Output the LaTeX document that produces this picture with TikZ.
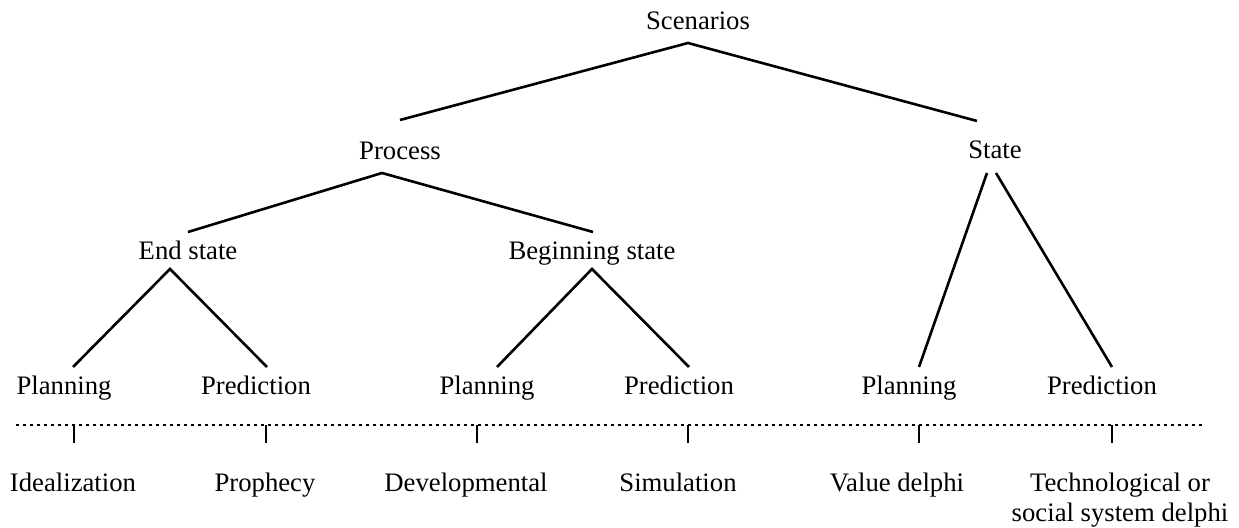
\documentclass[tikz,border=0pt]{standalone}
\usepackage{fontspec}
\setmainfont{Liberation Serif}
\begin{document}
\begin{tikzpicture}[x=0.5pt,y=-0.5pt,
  lbl/.style={anchor=base,inner sep=0pt,font=\fontsize{13.35}{15.5}\selectfont},
  edge/.style={line width=1.3pt,line cap=butt},
  sep/.style={line width=1pt,dash pattern=on 1.5pt off 2pt}]
\useasboundingbox (0,0) rectangle (1239,528);
% labels
\node[lbl] (scen) at (698,30) {Scenarios};
\node[lbl] (proc) at (400,160) {Process};
\node[lbl] (stat) at (995,159) {State};
\node[lbl] (ends) at (188,260) {End state};
\node[lbl] (begs) at (592,260) {Beginning state};
\node[lbl] (pl1) at (64,395) {Planning};
\node[lbl] (pr1) at (256,395) {Prediction};
\node[lbl] (pl2) at (487,395) {Planning};
\node[lbl] (pr2) at (679,395) {Prediction};
\node[lbl] (pl3) at (909,395) {Planning};
\node[lbl] (pr3) at (1102,395) {Prediction};
\node[lbl] (ide) at (73,492) {Idealization};
\node[lbl] (pro) at (265,492) {Prophecy};
\node[lbl] (dev) at (466,492) {Developmental};
\node[lbl] (sim) at (678,492) {Simulation};
\node[lbl] (val) at (897,492) {Value delphi};
\node[lbl] (tec) at (1120,492) {Technological or};
\node[lbl] (soc) at (1120,522) {social system delphi};
% junction points
\coordinate (scenA) at (688,43);
\coordinate (procT) at (400,120);
\coordinate (statT) at (977,121);
\coordinate (procA) at (382,173);
\coordinate (endsT) at (188,232);
\coordinate (begsT) at (593,232);
\coordinate (endsA) at (170,269);
\coordinate (begsA) at (592,269);
\coordinate (statAL) at (987,173);
\coordinate (statAR) at (996,173);
\coordinate (pl1T) at (73,367);
\coordinate (pr1T) at (267,367);
\coordinate (pl2T) at (497,367);
\coordinate (pr2T) at (689,367);
\coordinate (pl3T) at (919,367);
\coordinate (pr3T) at (1112,367);
% tree edges
\draw[edge] (procT) -- (scenA) -- (statT);
\draw[edge] (endsT) -- (procA) -- (begsT);
\draw[edge] (pl1T) -- (endsA) -- (pr1T);
\draw[edge] (pl2T) -- (begsA) -- (pr2T);
\draw[edge] (pl3T) -- (statAL);
\draw[edge] (statAR) -- (pr3T);
% dotted separator
\coordinate (sepL) at (16,425);
\coordinate (sepR) at (1203,425);
\draw[sep] (sepL) -- (sepR);
% ticks
\foreach \n/\x in {t1/74,t2/266,t3/477,t4/688,t5/919,t6/1112}{
  \coordinate (\n a) at (\x,425);
  \coordinate (\n b) at (\x,443);
  \draw[edge] (\n a) -- (\n b);
}
\end{tikzpicture}
\end{document}
